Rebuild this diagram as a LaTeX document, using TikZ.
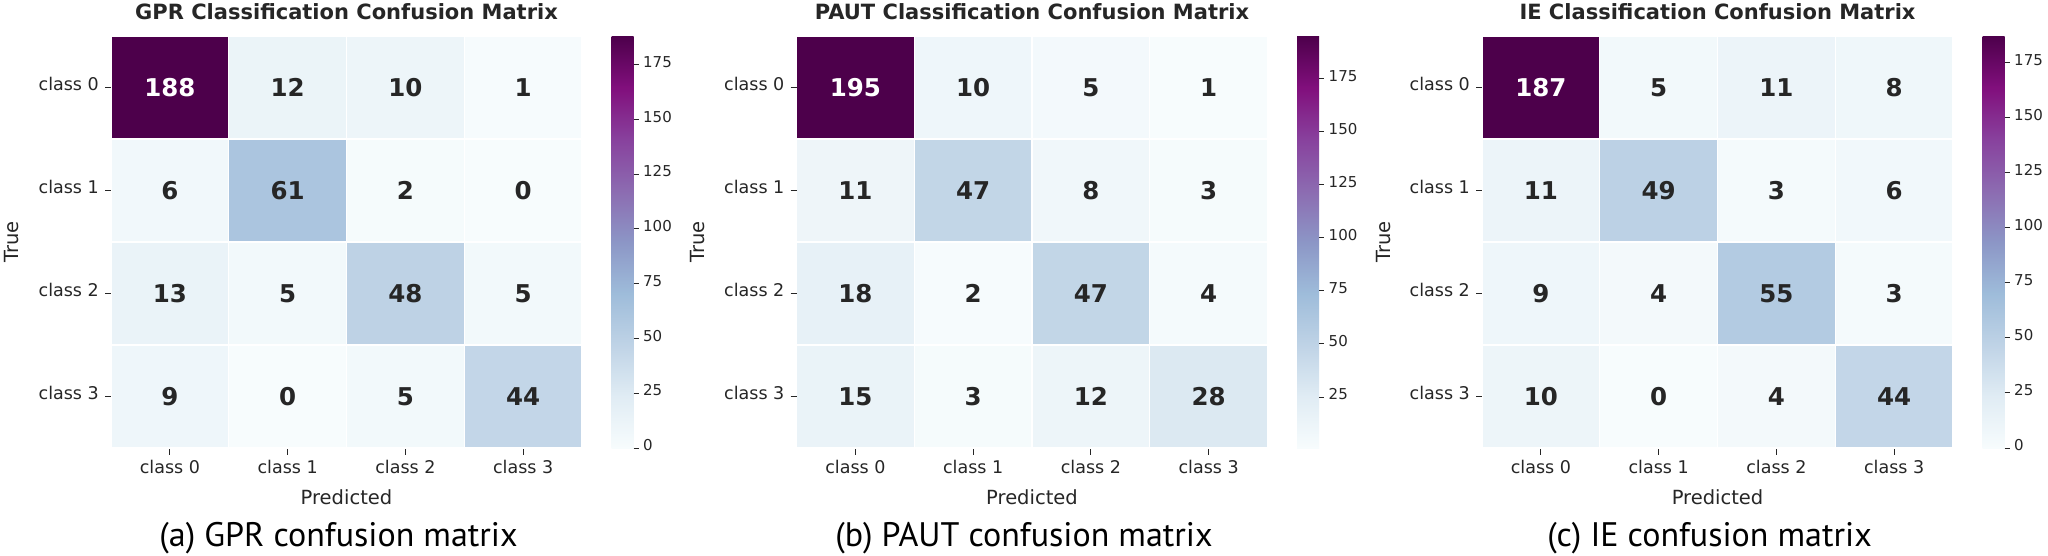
\documentclass[tikz,border=0pt]{standalone}
\usepackage{fontspec}
\setmainfont{DejaVu Sans}
\newfontfamily\capfont{PT Sans}
\definecolor{bupu0}{RGB}{247,252,253}
\definecolor{bupu1}{RGB}{224,236,244}
\definecolor{bupu2}{RGB}{191,211,230}
\definecolor{bupu3}{RGB}{158,188,218}
\definecolor{bupu4}{RGB}{140,150,198}
\definecolor{bupu5}{RGB}{140,107,177}
\definecolor{bupu6}{RGB}{136,65,157}
\definecolor{bupu7}{RGB}{129,15,124}
\definecolor{bupu8}{RGB}{77,0,75}
\definecolor{txt}{RGB}{38,38,38}
\pgfdeclareverticalshading{bupushade}{100bp}{color(0bp)=(bupu0); color(25bp)=(bupu0); color(31.25bp)=(bupu1); color(37.5bp)=(bupu2); color(43.75bp)=(bupu3); color(50bp)=(bupu4); color(56.25bp)=(bupu5); color(62.5bp)=(bupu6); color(68.75bp)=(bupu7); color(75bp)=(bupu8); color(100bp)=(bupu8)}
\newcommand\bupuset[3]{%
  \pgfmathsetmacro\bupuT{8*(#1-#2)/(#3-#2)}%
  \pgfmathtruncatemacro\bupuK{min(floor(\bupuT),7)}%
  \pgfmathsetmacro\bupuS{100*(\bupuT-\bupuK)}%
  \pgfmathtruncatemacro\bupuN{\bupuK+1}%
  \colorlet{cellc}{bupu\bupuN!\bupuS!bupu\bupuK}%
}
\tikzset{
  titletext/.style={font=\bfseries\fontsize{21}{22}\selectfont, text=txt, anchor=base, inner sep=0pt},
  cellnum/.style={font=\bfseries\fontsize{24.5}{25}\selectfont, anchor=center, inner sep=0pt},
  ticklab/.style={font=\fontsize{17.5}{18}\selectfont, text=txt, inner sep=0pt},
  cblab/.style={font=\fontsize{15}{16}\selectfont, text=txt, inner sep=0pt, anchor=mid west},
  axlab/.style={font=\fontsize{19.5}{20}\selectfont, text=txt, inner sep=0pt, anchor=base},
  captext/.style={font=\capfont\fontsize{34}{36}\selectfont, text=black, inner sep=0pt, anchor=base},
  tickmark/.style={draw=txt, line width=1pt},
  cellbox/.style={draw=white, line width=1.2pt},
}
% #1 name, #2 x offset, #3 title, #4 caption, #5 vmin, #6 vmax, #7 rows, #8 colorbar ticks
\newcommand\cmpanel[8]{%
\begin{scope}[shift={(#2,0)}]
  \foreach \rowvals [count=\ri from 0] in {#7}{
    \foreach \val [count=\ci from 0] in \rowvals {
      \bupuset{\val}{#5}{#6}
      \pgfmathsetmacro\xa{111+\ci*117.75}
      \pgfmathsetmacro\xb{111+(\ci+1)*117.75}
      \pgfmathsetmacro\ya{36+\ri*103}
      \pgfmathsetmacro\yb{36+(\ri+1)*103}
      \pgfmathsetmacro\xm{111+(\ci+0.5)*117.75}
      \pgfmathsetmacro\ym{36+(\ri+0.5)*103}
      \draw[cellbox, fill=cellc] (\xa,\ya) rectangle (\xb,\yb);
      \pgfmathtruncatemacro\isdark{(\val-#5)>0.5*(#6-#5)}
      \ifnum\isdark=1 \colorlet{numc}{white}\else\colorlet{numc}{txt}\fi
      \node[cellnum, text=numc] (#1-v\ri\ci) at (\xm,\ym) {\val};
    }
  }
  \foreach \k in {0,...,3}{
    \pgfmathsetmacro\ym{36+(\k+0.5)*103}
    \pgfmathsetmacro\xm{111+(\k+0.5)*117.75}
    \draw[tickmark] (105,\ym) -- (111,\ym);
    \node[ticklab, anchor=mid east] (#1-yl\k) at (99,\ym) {class \k};
    \draw[tickmark] (\xm,449) -- (\xm,455);
    \node[ticklab, anchor=base] (#1-xl\k) at (\xm,473) {class \k};
  }
  \node[titletext] (#1-title) at (346.5,19) {#3};
  \node[axlab] (#1-xlab) at (346.5,504) {Predicted};
  \node[axlab, rotate=90] (#1-ylab) at (19,242) {True};
  \shade[shading=bupushade] (611.5,36) rectangle (633.5,448);
  \foreach \t in {#8}{
    \pgfmathsetmacro\ty{448-(\t-#5)/(#6-#5)*412}
    \draw[tickmark] (633.5,\ty) -- (638.5,\ty);
    \node[cblab] (#1-cb\t) at (643,\ty) {\t};
  }
  \node[captext] (#1-cap) at (338.5,546) {#4};
\end{scope}}
\begin{document}
\begin{tikzpicture}[x=1pt,y=-1pt]
\fill[white] (0,0) rectangle (2048,555);
\useasboundingbox (0,0) rectangle (2048,555);
\cmpanel{gpr}{0}{GPR Classification Confusion Matrix}{(a) GPR confusion matrix}{0}{188}{{188,12,10,1},{6,61,2,0},{13,5,48,5},{9,0,5,44}}{0,25,50,75,100,125,150,175}
\cmpanel{paut}{685.5}{PAUT Classification Confusion Matrix}{(b) PAUT confusion matrix}{1}{195}{{195,10,5,1},{11,47,8,3},{18,2,47,4},{15,3,12,28}}{25,50,75,100,125,150,175}
\cmpanel{ie}{1371}{IE Classification Confusion Matrix}{(c) IE confusion matrix}{0}{187}{{187,5,11,8},{11,49,3,6},{9,4,55,3},{10,0,4,44}}{0,25,50,75,100,125,150,175}
\end{tikzpicture}
\end{document}
